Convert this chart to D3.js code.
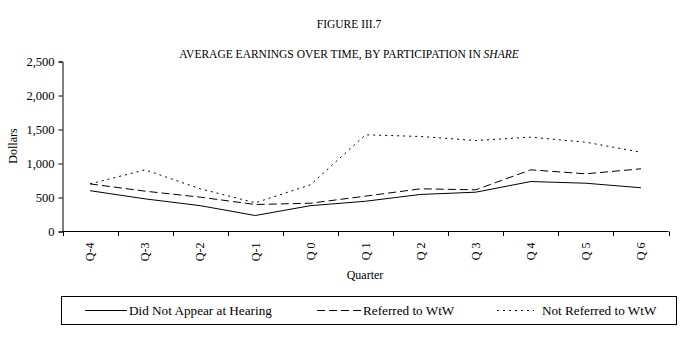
<!DOCTYPE html>
<html><head><meta charset="utf-8">
<script src="https://cdn.jsdelivr.net/npm/d3@7"></script>
<style>body{margin:0;background:#fff}svg{display:block}text{font-family:"Liberation Serif","Times New Roman",serif;fill:#000}</style>
</head><body>
<svg id="c" width="687" height="340"></svg>
<script>
const quarters = ["Q-4","Q-3","Q-2","Q-1","Q 0","Q 1","Q 2","Q 3","Q 4","Q 5","Q 6"];
const didNotAppear = [600,480,380,235,380,445,545,578,735,710,643];
const referred = [700,593,505,397,416,520,628,613,907,848,922];
const notReferred = [700,907,628,422,687,1422,1397,1338,1387,1313,1166];
const yTicks = [0,500,1000,1500,2000,2500];
const seriesNames = ["Did Not Appear at Hearing","Referred to WtW","Not Referred to WtW"];

const svg = d3.select("#c");
const x = d3.scaleBand().domain(quarters).range([62.5,668.5]);
const y = d3.scaleLinear().domain([0,2500]).range([231.5,61.5]);

svg.append("text").attr("x",349).attr("y",28).attr("text-anchor","middle").attr("font-size",11.5).text("FIGURE III.7");
const t2 = svg.append("text").attr("x",349).attr("y",58).attr("text-anchor","middle").attr("font-size",11.5);
t2.append("tspan").text("AVERAGE EARNINGS OVER TIME, BY PARTICIPATION IN ");
t2.append("tspan").attr("font-style","italic").text("SHARE");

const ya = svg.append("g").attr("transform","translate(62.5,0)")
  .call(d3.axisLeft(y).tickValues(yTicks).tickSize(4).tickFormat(d3.format(",")));
ya.select(".domain").attr("stroke","#000");
ya.selectAll("text").attr("font-size",12.5).attr("font-family","Liberation Serif").attr("x",-8);

const xa = svg.append("g").attr("transform","translate(0,231.5)")
  .call(d3.axisBottom(x).tickSize(0));
xa.select(".domain").attr("stroke","#000").attr("d","M62.5,0H668.5");
xa.selectAll(".tick line").remove();
xa.selectAll(".tick text").attr("font-size",12).attr("font-family","Liberation Serif")
  .attr("transform","rotate(-90)").attr("text-anchor","end").attr("x",-11).attr("y",0).attr("dy","0.35em");
const edges = x.domain().map(d=>x(d)).concat([x.range()[1]]);
svg.append("g").selectAll("line").data(edges).join("line")
  .attr("x1",d=>Math.round(d)+0.5).attr("x2",d=>Math.round(d)+0.5).attr("y1",231.5).attr("y2",236).attr("stroke","#000");

svg.append("text").attr("transform","translate(17,146) rotate(-90)").attr("text-anchor","middle").attr("font-size",12).text("Dollars");
svg.append("text").attr("x",365).attr("y",279).attr("text-anchor","middle").attr("font-size",12).text("Quarter");

const line = d3.line().x((d,i)=>x(quarters[i])+x.bandwidth()/2).y(d=>y(d));
const styles = [null,"8,4","2,4"];
[didNotAppear,referred,notReferred].forEach((s,i)=>{
  svg.append("path").datum(s).attr("d",line).attr("fill","none").attr("stroke","#000")
    .attr("stroke-width",1).attr("stroke-dasharray",styles[i]);
});

svg.append("rect").attr("x",61.5).attr("y",296.5).attr("width",615).attr("height",28).attr("fill","none").attr("stroke","#000");
const leg = [{x1:85,x2:127,tx:129},{x1:317,x2:361,tx:363},{x1:497,x2:534,tx:542}];
leg.forEach((l,i)=>{
  svg.append("line").attr("x1",l.x1).attr("x2",l.x2).attr("y1",310.5).attr("y2",310.5).attr("stroke","#000").attr("stroke-dasharray",styles[i]);
  svg.append("text").attr("x",l.tx).attr("y",314.5).attr("font-size",13.2).text(seriesNames[i]);
});
</script>
</body></html>
